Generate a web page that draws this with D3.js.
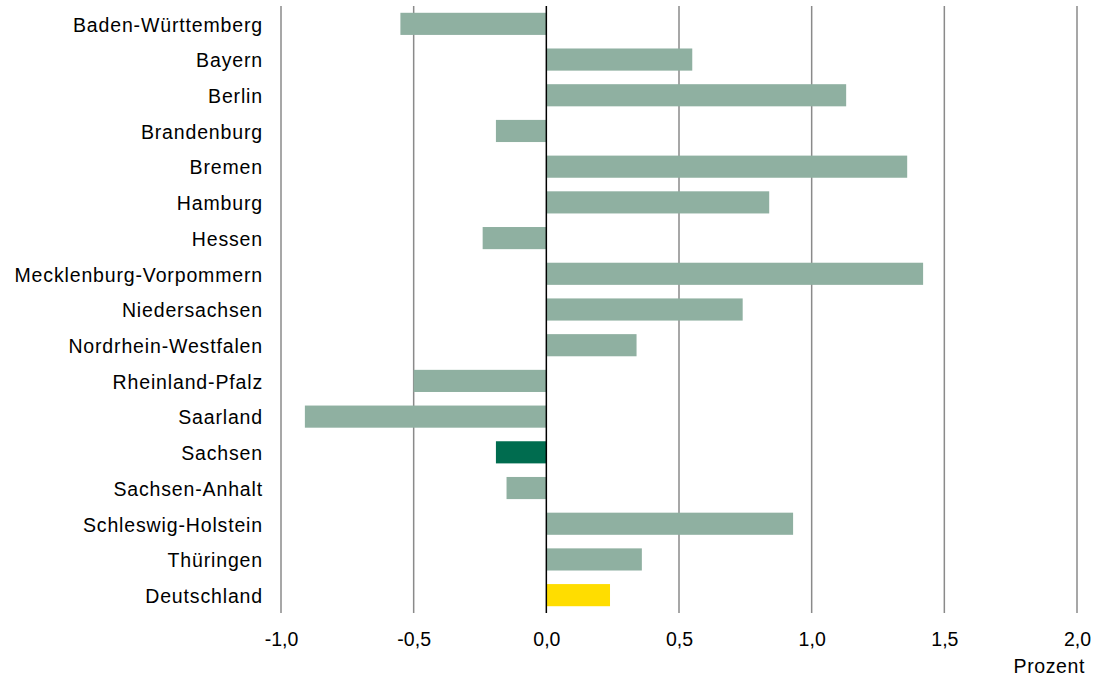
<!DOCTYPE html>
<html>
<head>
<meta charset="utf-8">
<script src="https://cdn.jsdelivr.net/npm/d3@7"></script>
<style>
  html, body { margin: 0; padding: 0; background: #fff; }
  svg { display: block; font-family: "Liberation Sans", Arial, sans-serif; }
</style>
</head>
<body>
<svg id="chart" width="1094" height="679"></svg>
<script>
// Bundesländer and Deutschland, top to bottom
const laender = [
  "Baden-Württemberg", "Bayern", "Berlin", "Brandenburg", "Bremen", "Hamburg",
  "Hessen", "Mecklenburg-Vorpommern", "Niedersachsen", "Nordrhein-Westfalen",
  "Rheinland-Pfalz", "Saarland", "Sachsen", "Sachsen-Anhalt",
  "Schleswig-Holstein", "Thüringen", "Deutschland"
];
// Veränderung in Prozent
const werte = [
  -0.55, 0.55, 1.13, -0.19, 1.36, 0.84,
  -0.24, 1.42, 0.74, 0.34,
  -0.50, -0.91, -0.19, -0.15,
  0.93, 0.36, 0.24
];
const tickWerte = [-1.0, -0.5, 0.0, 0.5, 1.0, 1.5, 2.0];
const achsenTitel = "Prozent";
const quelle = "Datenquelle: Arbeitskreis Erwerbstätigenrechnung (VGR der Länder)";

const farbeStandard = "#8fb0a1";
const farbeSachsen = "#006c4f";
const farbeDeutschland = "#ffdd00";

const svg = d3.select("#chart");

const x = d3.scaleLinear().domain([-1.0, 2.0]).range([281, 1077]);
const y = d3.scaleBand().domain(laender).range([6, 613]).paddingInner(0.38).paddingOuter(0.19);

const fmt = v => d3.format(".1f")(v).replace(".", ",").replace("−", "-");

// vertical grid lines
svg.append("g")
  .selectAll("line")
  .data(tickWerte.filter(t => t !== 0))
  .join("line")
  .attr("x1", d => x(d)).attr("x2", d => x(d))
  .attr("y1", 6).attr("y2", 613)
  .attr("stroke", "#8a8a8a")
  .attr("stroke-width", 1.5);

// bars
svg.append("g")
  .selectAll("rect")
  .data(laender.map((l, i) => ({ land: l, wert: werte[i] })))
  .join("rect")
  .attr("x", d => x(Math.min(0, d.wert)))
  .attr("width", d => Math.abs(x(d.wert) - x(0)))
  .attr("y", d => y(d.land))
  .attr("height", y.bandwidth())
  .attr("fill", d => d.land === "Sachsen" ? farbeSachsen : d.land === "Deutschland" ? farbeDeutschland : farbeStandard);

// zero line
svg.append("line")
  .attr("x1", x(0)).attr("x2", x(0))
  .attr("y1", 6).attr("y2", 613)
  .attr("stroke", "#000")
  .attr("stroke-width", 1.5);

// category labels
const yAxis = d3.axisLeft(y).tickSize(0).tickPadding(0);
const gy = svg.append("g").attr("transform", "translate(263,0)").call(yAxis);
gy.select(".domain").remove();
gy.selectAll("text")
  .attr("font-size", 19.5)
  .attr("letter-spacing", 0.85)
  .attr("dy", "0.4em")
  .attr("font-family", "'Liberation Sans', Arial, sans-serif")
  .attr("fill", "#000");

// value axis labels
const xAxis = d3.axisBottom(x).tickValues(tickWerte).tickFormat(fmt).tickSize(0).tickPadding(0);
const gx = svg.append("g").attr("transform", "translate(0,632)").call(xAxis);
gx.select(".domain").remove();
gx.selectAll("text")
  .attr("font-size", 19.5)
  .attr("font-family", "'Liberation Sans', Arial, sans-serif")
  .attr("fill", "#000");

// axis title
svg.append("text")
  .attr("x", 1085).attr("y", 673)
  .attr("text-anchor", "end")
  .attr("font-size", 19.5)
  .attr("letter-spacing", 0.6)
  .attr("fill", "#000")
  .text(achsenTitel);

// source note along the bottom edge
svg.append("text")
  .attr("x", 30).attr("y", 688)
  .attr("font-size", 13)
  .attr("fill", "#666")
  .text(quelle);
</script>
</body>
</html>
